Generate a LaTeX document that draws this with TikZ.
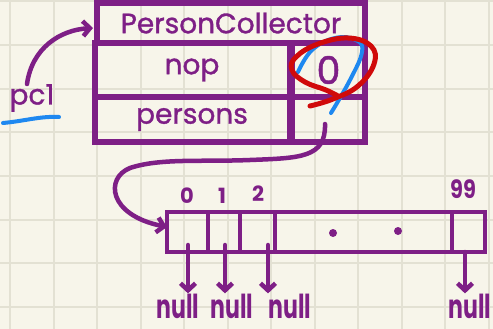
\documentclass[tikz,border=0pt]{standalone}
\usepackage{fontspec}
\setmainfont{Poppins}
\newfontfamily\medfont{Poppins}[FakeBold=1.2]
\usetikzlibrary{arrows.meta}
\definecolor{bgc}{HTML}{F7F5EA}
\definecolor{gridc}{HTML}{E3E1D3}
\definecolor{pur}{HTML}{7E1F86}
\definecolor{redm}{HTML}{D00A0A}
\definecolor{bluem}{HTML}{1E88F0}
\tikzset{
  cellbox/.style={draw=pur, line width=6pt, inner sep=0pt, outer sep=0pt, text=pur, font=\medfont\fontsize{28}{32}\selectfont},
  arrcell/.style={draw=pur, line width=4.5pt, inner sep=0pt, outer sep=0pt, minimum height=40pt},
  idx/.style={text=pur, font=\fontsize{21}{24}\selectfont\bfseries, inner sep=0pt},
  nulltxt/.style={text=pur, font=\fontsize{22}{24}\selectfont\bfseries, inner sep=0pt, yscale=1.5},
  arr/.style={draw=pur, line width=4.5pt, line cap=round, line join=round, -{Straight Barb[length=7pt,width=15pt]}},
}
\begin{document}
\begin{tikzpicture}[x=1pt, y=-1pt]
\useasboundingbox (0,0) rectangle (493,329);
\fill[bgc] (0,0) rectangle (493,329);
% grid
\foreach \i in {0,...,11} {\draw[gridc, line width=2pt] ({10+43.5*\i},0) -- ({10+43.5*\i},329);}
\foreach \j in {0,...,7} {\draw[gridc, line width=2pt] (0,{1.5+43.6*\j}) -- (493,{1.5+43.6*\j});}

% object box
\node[cellbox, minimum width=268pt, minimum height=40pt] (title) at (231,23) {PersonCollector};
\node[cellbox, minimum width=195pt, minimum height=54pt] (nop) at (192,70) {nop};
\node[cellbox, minimum width=73pt, minimum height=54pt, font=\medfont\fontsize{38}{42}\selectfont] (nopval) at (328.5,70) {0};
\node[cellbox, minimum width=195pt, minimum height=45pt] (persons) at (192,119.5) {persons};
\node[cellbox, minimum width=73pt, minimum height=45pt] (pref) at (328.5,119.5) {};

% pc1
\node[text=pur, font=\medfont\fontsize{28}{32}\selectfont, inner sep=0pt] (pc1) at (32,98) {pc1};
\draw[bluem, line width=4pt, line cap=round] (3,123) .. controls (25,121) and (40,116) .. (59,117);
\coordinate (pcs) at (27,84);
\draw[arr] (pcs) .. controls (32,48) and (60,30) .. ([xshift=-4pt]title.west |- 0,28);

% marks on the 0
\draw[bluem, line width=4pt, line cap=round, line join=round]
  plot[smooth, tension=0.7] coordinates {(298,72) (312,50) (335,38) (356,40) (362,52) (350,80) (331,113)};
\draw[redm, line width=5pt, line cap=round, line join=round]
  plot[smooth, tension=0.7] coordinates {(310,106) (333,99) (358,86) (374,64) (371,46) (348,38) (318,44) (296,57) (292,70) (305,82) (326,90) (338,96)};

% array
\node[arrcell, minimum width=41pt] (c0) at (187.5,232) {};
\node[arrcell, minimum width=32pt] (c1) at (224,232) {};
\node[arrcell, minimum width=35pt] (c2) at (257.5,232) {};
\node[arrcell, minimum width=177pt] (cm) at (363.5,232) {};
\node[arrcell, minimum width=33pt] (c99) at (468.5,232) {};
\fill[pur] (333,233) circle (4pt) (398,231) circle (4pt);

% indices
\node[idx] (i0) at (187,196) {0};
\node[idx] (i1) at (222,196) {1};
\node[idx] (i2) at (258,194) {2};
\node[idx, yscale=1.2] (i99) at (463,189) {99};

% reference arrow from persons
\coordinate (ps) at (325,124);
\draw[arr] (ps) .. controls (326,158) and (300,158) .. (250,160)
  .. controls (200,162) and (160,158) .. (130,168)
  .. controls (105,178) and (108,215) .. ([yshift=5pt]c0.west);

% nulls
\node[nulltxt] (n0) at (178,306) {null};
\node[nulltxt] (n1) at (232,306) {null};
\node[nulltxt] (n2) at (290,306) {null};
\node[nulltxt] (n99) at (470,306) {null};
\coordinate (s0) at (188,245);
\coordinate (s1) at (225,245);
\coordinate (s2) at (268,245);
\coordinate (s99) at (465,252);
\draw[arr] (s0) -- (s0 |- n0.north);
\draw[arr] (s1) -- (s1 |- n1.north);
\draw[arr] (s2) -- (s2 |- n2.north);
\draw[arr] (s99) -- (s99 |- n99.north);
\end{tikzpicture}
\end{document}
